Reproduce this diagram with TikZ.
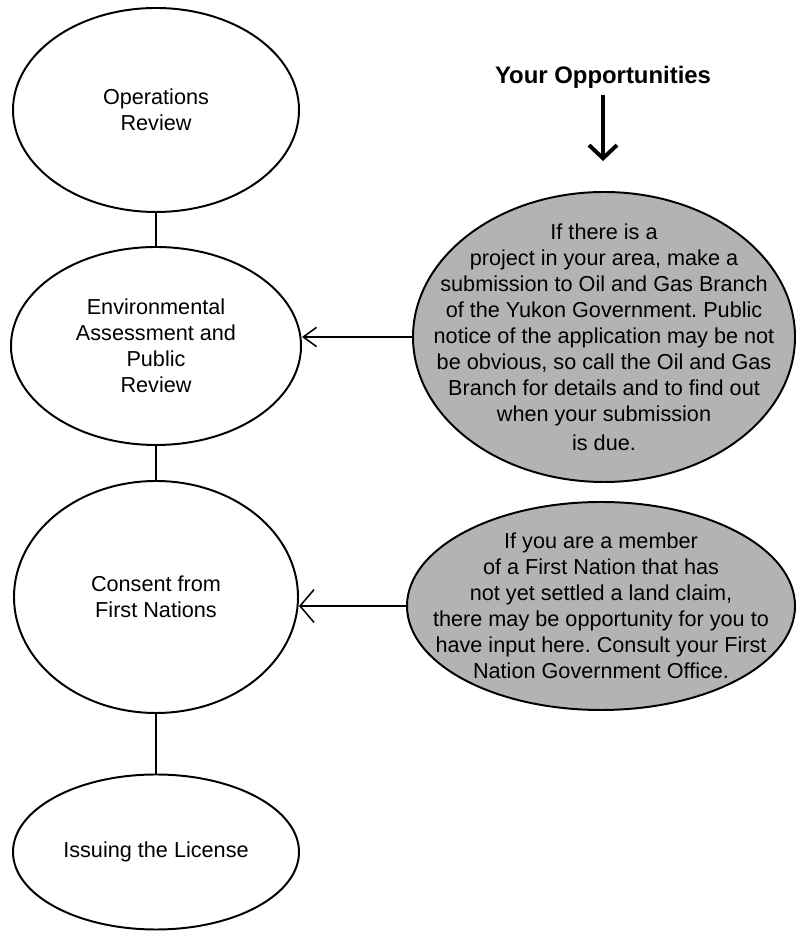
\documentclass[tikz,border=0pt]{standalone}
\usepackage{fontspec}
\setsansfont{Liberation Sans}
\usepackage{xcolor}
\usepackage{tikz}
\usetikzlibrary{arrows.meta,shapes.geometric}
\definecolor{oppfill}{HTML}{B3B3B3}
\frenchspacing

\begin{document}
\begin{tikzpicture}[
  font=\sffamily\fontsize{15.4}{18.5}\selectfont,
  stage/.style={ellipse,draw,line width=1.4pt,inner sep=0pt,align=center},
  chance/.style={ellipse,draw,line width=1.4pt,fill=oppfill,inner sep=0pt},
  note/.style={align=center,inner sep=0pt},
  link/.style={line width=1.4pt},
  feed/.style={line width=1.1pt}
]
\useasboundingbox (0,0) rectangle (19.9,23.275);
% licensing stages down the left
\node[stage,minimum width=7.15cm,minimum height=5.1cm] (ops) at (3.9,20.525) {Operations\\Review};
\node[stage,minimum width=7.25cm,minimum height=4.95cm] (env) at (3.9,14.625) {Environmental\\Assessment and\\Public\\Review};
\node[stage,minimum width=7.1cm,minimum height=5.8cm] (consent) at (3.9,8.35) {Consent from\\First Nations};
\node[stage,minimum width=7.15cm,minimum height=3.875cm] (issue) at (3.9,1.975) {Issuing the License};
\draw[link] (ops.south) -- (env.north);
\draw[link] (env.south) -- (consent.north);
\draw[link] (consent.south) -- (issue.north);

% opportunities on the right
\node[font=\sffamily\bfseries\fontsize{17}{20}\selectfont] (opps) at (15.075,21.33) {Your Opportunities};
\coordinate (oppstip) at (15.075,19.25);
\draw[line width=2.8pt,-{Straight Barb[length=0.33cm,width=0.7cm]}] ([yshift=-0.02cm]opps.south) -- (oppstip);

\node[chance,minimum width=9.55cm,minimum height=7.25cm] (subm) at (15.1,14.85) {};
\node[note] (submtext) at (subm.center) {If there is a\\project in your area, make a\\submission to Oil and Gas Branch\\of the Yukon Government. Public\\notice of the application may be not\\be obvious, so call the Oil and Gas\\Branch for details and to find out\\when your submission\\[2pt]is due.};

\node[chance,minimum width=9.7cm,minimum height=5.2cm] (claim) at (15.025,8.125) {};
\node[note] (claimtext) at (claim.center) {If you are a member\\of a First Nation that has\\not yet settled a land claim,\\there may be opportunity for you to\\have input here. Consult your First\\Nation Government Office.};

\draw[feed,-{Straight Barb[length=0.33cm,width=0.48cm]}] (subm.west) -- (subm.west -| env.east);
\draw[feed,-{Straight Barb[length=0.35cm,width=0.82cm]}] (claim.west) -- (claim.west -| consent.east);
\end{tikzpicture}
\end{document}
